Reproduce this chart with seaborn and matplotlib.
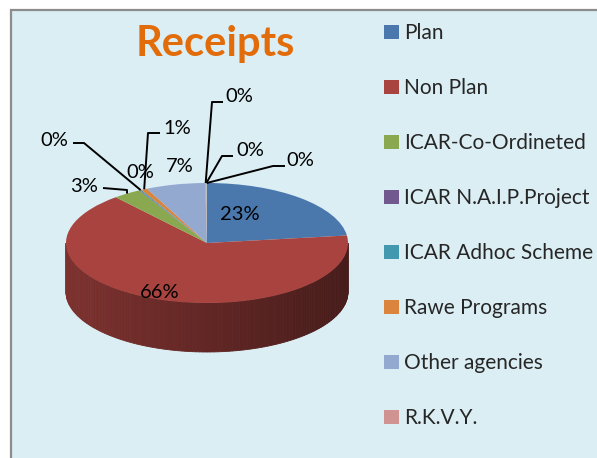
import numpy as np
import matplotlib
matplotlib.use("Agg")
import matplotlib.pyplot as plt
import seaborn as sns
from matplotlib.patches import Rectangle, Polygon
from matplotlib.colors import to_rgb

# Receipts share (%) - last two slices are cut off the legend in the original
categories = ["Plan", "Non Plan", "ICAR-Co-Ordineted", "ICAR N.A.I.P.Project",
              "ICAR Adhoc Scheme", "Rawe Programs", "Other agencies", "R.K.V.Y.",
              "Misc. 1", "Misc. 2"]
shares = [23.0, 65.8, 3.2, 0.1, 0.2, 0.7, 6.8, 0.1, 0.05, 0.05]
colors = ["#4a78ad", "#a9433f", "#8aa84f", "#71588f", "#4198af",
          "#db843d", "#93a9cf", "#d19392", "#b5c8a0", "#a4a0c0"]
n_legend = 8

sns.set_theme(style="white")
plt.rcParams['font.family'] = ['Lato', 'DejaVu Sans']

W, H = 597, 458
CX, CY = 207, 243      # pie centre (px)
RX, RY = 141, 60       # ellipse radii (px)
DEPTH = 49 / RY        # side wall height in y-units

def px(x, y):
    return (x - CX) / RX, (CY - y) / RY

fig = plt.figure(figsize=(W / 100, H / 100), dpi=100)
fig.patch.set_facecolor("white")
bg = Rectangle((11 / W, -0.01), 1.0, (H - 10) / H + 0.01, transform=fig.transFigure,
               facecolor="#dbeef4", edgecolor="#8c8c8c", linewidth=1.6, zorder=-5)
fig.add_artist(bg)

ax = fig.add_axes([0, 0, 1, 1])
ax.patch.set_visible(False)

# side walls of the 3D pie (front half only), shaded left -> right
ends = 90 - np.cumsum(shares) * 3.6
starts = np.concatenate([[90], ends[:-1]])
for a, b, c in zip(starts, ends, colors):
    lo, hi = max(b, -180), min(a, 0)
    if hi <= lo:
        continue
    ts = np.linspace(lo, hi, max(int((hi - lo) / 1.5), 2) + 1)
    base = np.array(to_rgb(c))
    for t1, t2 in zip(ts[:-1], ts[1:]):
        r1, r2 = np.radians(t1), np.radians(t2)
        f = 0.58 - 0.16 * np.cos((r1 + r2) / 2)
        pts = [(np.cos(r1), np.sin(r1)), (np.cos(r2), np.sin(r2)),
               (np.cos(r2), np.sin(r2) - DEPTH), (np.cos(r1), np.sin(r1) - DEPTH)]
        ax.add_patch(Polygon(pts, closed=True, facecolor=base * f,
                             edgecolor=base * f, linewidth=0.6, zorder=1))

wedges, _ = ax.pie(shares, colors=colors, startangle=90, counterclock=False,
                   radius=1, center=(0, 0), wedgeprops=dict(linewidth=0, zorder=2))
ax.set_aspect("auto")
ax.set_xlim(-CX / RX, (W - CX) / RX)
ax.set_ylim(-(H - CY) / RY, CY / RY)
ax.axis("off")

# data labels: text position (px) and optional leader elbow (px)
label_pos = [(240, 215), (160, 292), (84, 186), (140, 172), (54, 140),
             (177, 129), (180, 166), (239, 96), (250, 150), (300, 160)]
leaders = [None, None, [(103, 188), (127, 190)], None, [(73, 143), (84, 143)],
           [(160, 133), (148, 133)], None, [(223, 102), (212, 102)],
           [(233, 156), (222, 156)], [(285, 166), (273, 166)]]

mids = np.radians((starts + ends) / 2)
for i, s in enumerate(shares):
    ax.text(*px(*label_pos[i]), f"{round(s):.0f}%", fontsize=14.5, color="black",
            ha="center", va="center", zorder=5)
    if leaders[i] is not None:
        pts = [px(*p) for p in leaders[i]] + [(np.cos(mids[i]), np.sin(mids[i]))]
        xs, ys = zip(*pts)
        ax.plot(xs, ys, color="black", linewidth=1.4, zorder=4,
                solid_capstyle="butt")

fig.text(215 / W, 1 - 44 / H, "Receipts", color="#e36c0a", fontsize=30,
         fontweight="bold", ha="center", va="center")

fig.legend(wedges[:n_legend], categories[:n_legend], loc="upper left",
           bbox_to_anchor=(376 / W, 1 - 15 / H), frameon=False, fontsize=15,
           handlelength=0.68, handleheight=0.68, handletextpad=0.25,
           labelspacing=1.68, borderaxespad=0)

fig.savefig("out.png", dpi=100, facecolor=fig.get_facecolor())
